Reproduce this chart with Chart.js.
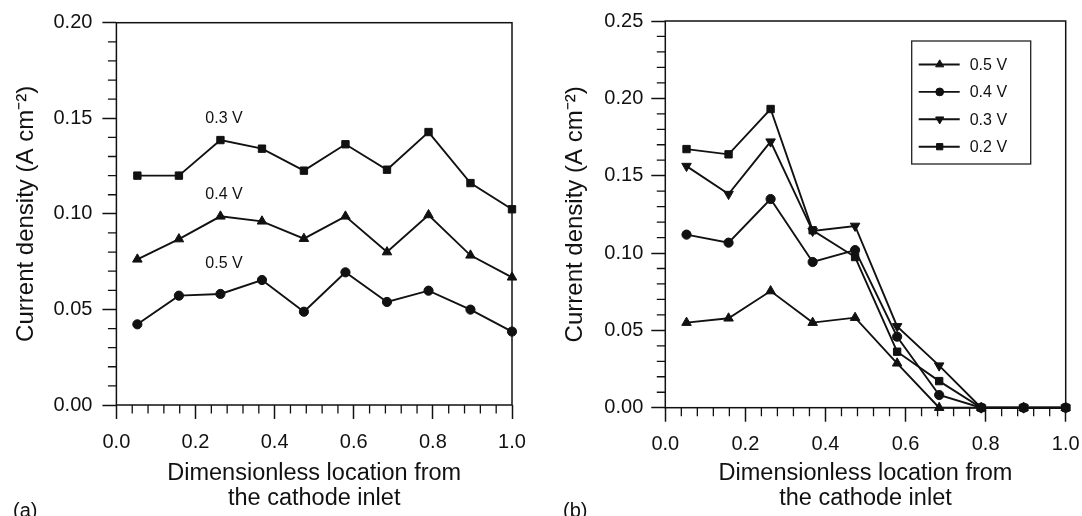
<!DOCTYPE html>
<html>
<head>
<meta charset="utf-8">
<script src="https://cdn.jsdelivr.net/npm/chart.js@4"></script>
<style>
  html, body { margin: 0; padding: 0; background: #fff; }
  #wrap { position: relative; width: 1082px; height: 516px; overflow: hidden; }
  .panel { position: absolute; top: 0; height: 516px; }
  .tag { position: absolute; font-family: "Liberation Sans", Arial, Helvetica, sans-serif;
         font-size: 20px; color: #111; line-height: 23px; }
</style>
</head>
<body>
<div id="wrap">
  <div class="panel" style="left:0;width:541px"><canvas id="chartA" width="541" height="516"></canvas></div>
  <div class="panel" style="left:541px;width:560px"><canvas id="chartB" width="560" height="516"></canvas></div>
  <div class="tag" style="left:13px;top:499px">(a)</div>
  <div class="tag" style="left:563px;top:499px">(b)</div>
</div>
<script>
// Dimensionless positions along the channel (shared by both panels)
const positions = [0.053, 0.158, 0.263, 0.368, 0.474, 0.579, 0.684, 0.789, 0.895, 1.0];

// Panel (a): current density (A cm^-2)
const a03V = [0.1200, 0.1200, 0.1386, 0.1341, 0.1226, 0.1364, 0.1231, 0.1428, 0.1161, 0.1024];
const a04V = [0.0762, 0.0868, 0.0987, 0.0961, 0.0870, 0.0987, 0.0800, 0.0994, 0.0783, 0.0668];
const a05V = [0.0422, 0.0572, 0.0581, 0.0654, 0.0488, 0.0694, 0.0539, 0.0598, 0.0499, 0.0384];
// In-plot curve labels for panel (a): text and anchor in data units
const curveLabelText = ['0.3 V', '0.4 V', '0.5 V'];
const curveLabelX = [0.272, 0.272, 0.272];
const curveLabelY = [0.1496, 0.1099, 0.0738];

// Panel (b): current density (A cm^-2)
const b05V = [0.0550, 0.0578, 0.0754, 0.0550, 0.0582, 0.0287, 0.0000, 0, 0, 0];
const b04V = [0.1119, 0.1067, 0.1349, 0.0942, 0.1019, 0.0459, 0.0082, 0, 0, 0];
const b03V = [0.1562, 0.1381, 0.1720, 0.1142, 0.1175, 0.0526, 0.0272, 0, 0, 0];
const b02V = [0.1672, 0.1638, 0.1931, 0.1147, 0.0974, 0.0362, 0.0172, 0, 0, 0];
const seriesLabelsB = ['0.5 V', '0.4 V', '0.3 V', '0.2 V'];

const FONT = '"Liberation Sans", Arial, Helvetica, sans-serif';
const INK = '#111';
const xTitle = ['Dimensionless location from', 'the cathode inlet'];
const yTitle = 'Current density (A cm\u207B\u00B2)';

const pts = vals => vals.map((v, i) => ({ x: positions[i], y: v }));

const marker = {
  triangle: { pointStyle: 'triangle', pointRadius: 5.5, pointRotation: 0 },
  invTriangle: { pointStyle: 'triangle', pointRadius: 5.5, pointRotation: 180 },
  circle: { pointStyle: 'circle', pointRadius: 4.6, pointRotation: 0 },
  square: { pointStyle: 'rect', pointRadius: 5.2, pointRotation: 0 }
};

function series(label, vals, m) {
  return Object.assign({
    label, data: pts(vals),
    borderColor: INK, borderWidth: 1.9,
    pointBackgroundColor: INK, pointBorderColor: INK, pointBorderWidth: 1,
    pointHoverRadius: 0, tension: 0, fill: false, clip: false
  }, m);
}

// Box around the plot area plus short minor ticks on both axes
const framePlugin = {
  id: 'frame',
  afterDraw(chart, args, opts) {
    const { ctx, chartArea: a } = chart;
    const x = chart.scales.x, y = chart.scales.y;
    ctx.save();
    ctx.strokeStyle = INK;
    ctx.lineWidth = 1.5;
    ctx.strokeRect(a.left, a.top, a.right - a.left, a.bottom - a.top);
    ctx.lineWidth = 1.3;
    ctx.beginPath();
    const nx = Math.round((x.max - x.min) / opts.xMinor);
    const kx = Math.round(opts.xMajor / opts.xMinor);
    for (let k = 1; k < nx; k++) {
      if (k % kx === 0) continue;
      const px = x.getPixelForValue(x.min + k * opts.xMinor);
      ctx.moveTo(px, a.bottom);
      ctx.lineTo(px, a.bottom + opts.minorLen);
    }
    const ny = Math.round((y.max - y.min) / opts.yMinor);
    const ky = Math.round(opts.yMajor / opts.yMinor);
    for (let k = 1; k < ny; k++) {
      if (k % ky === 0) continue;
      const py = y.getPixelForValue(y.min + k * opts.yMinor);
      ctx.moveTo(a.left, py);
      ctx.lineTo(a.left - opts.minorLen, py);
    }
    ctx.stroke();
    ctx.restore();
  }
};

// Text labels placed next to the curves (panel a)
const curveLabelPlugin = {
  id: 'curveLabels',
  afterDraw(chart, args, opts) {
    if (!opts.text) return;
    const { ctx } = chart;
    const x = chart.scales.x, y = chart.scales.y;
    ctx.save();
    ctx.fillStyle = INK;
    ctx.font = '16px ' + FONT;
    ctx.textAlign = 'center';
    ctx.textBaseline = 'middle';
    opts.text.forEach((t, i) => {
      ctx.fillText(t, x.getPixelForValue(opts.xs[i]), y.getPixelForValue(opts.ys[i]));
    });
    ctx.restore();
  }
};

// Boxed legend inside the plot area (panel b)
const boxLegendPlugin = {
  id: 'boxLegend',
  afterDraw(chart, args, opts) {
    if (!opts.show) return;
    const { ctx, chartArea: a } = chart;
    const bx = a.right - opts.fromRight - opts.width;
    const by = a.top + opts.fromTop;
    ctx.save();
    ctx.fillStyle = '#fff';
    ctx.fillRect(bx, by, opts.width, opts.height);
    ctx.strokeStyle = '#222';
    ctx.lineWidth = 1.3;
    ctx.strokeRect(bx, by, opts.width, opts.height);
    ctx.font = '16px ' + FONT;
    ctx.textBaseline = 'middle';
    ctx.textAlign = 'left';
    chart.data.datasets.forEach((ds, i) => {
      const yy = by + opts.firstRow + i * opts.rowGap;
      ctx.strokeStyle = INK;
      ctx.lineWidth = 1.9;
      ctx.beginPath();
      ctx.moveTo(bx + 7, yy);
      ctx.lineTo(bx + 48, yy);
      ctx.stroke();
      ctx.fillStyle = INK;
      ctx.lineWidth = 1;
      Chart.helpers.drawPoint(ctx, {
        pointStyle: ds.pointStyle, rotation: ds.pointRotation,
        radius: ds.pointRadius * 0.85, borderWidth: 1
      }, bx + 28, yy);
      ctx.fillStyle = INK;
      ctx.fillText(ds.label, bx + 58, yy + 1);
    });
    ctx.restore();
  }
};

function buildChart(id, p) {
  return new Chart(document.getElementById(id), {
    type: 'line',
    data: { datasets: p.datasets },
    options: {
      responsive: false, animation: false,
      events: [],
      layout: { padding: { left: 0, right: p.padRight, top: p.padTop, bottom: 0 } },
      scales: {
        x: {
          type: 'linear', min: 0, max: 1,
          ticks: { stepSize: 0.2, color: INK, font: { family: FONT, size: 20 }, padding: 11,
                   maxRotation: 0, autoSkip: false, callback: v => v.toFixed(1) },
          grid: { drawOnChartArea: false, drawTicks: true, tickLength: 14, tickColor: INK, tickWidth: 1.5 },
          border: { display: false },
          title: { display: true, text: xTitle, color: INK,
                   font: { family: FONT, size: 23.5, lineHeight: 1.06 }, padding: { top: 0, bottom: 5 } },
          afterFit(s) { s.height = p.xAxisH; }
        },
        y: {
          type: 'linear', min: 0, max: p.yMax,
          ticks: { stepSize: 0.05, color: INK, font: { family: FONT, size: 20 }, padding: p.yTickPad,
                   autoSkip: false, callback: v => v.toFixed(2) },
          grid: { drawOnChartArea: false, drawTicks: true, tickLength: 14, tickColor: INK, tickWidth: 1.5 },
          border: { display: false },
          title: { display: true, text: yTitle, color: INK,
                   font: { family: FONT, size: 24, lineHeight: 1.1 }, padding: { top: p.yTitlePad, bottom: 0 } },
          afterFit(s) { s.width = p.yAxisW; }
        }
      },
      plugins: {
        legend: { display: false },
        tooltip: { enabled: false },
        frame: { xMinor: 0.04, xMajor: 0.2, yMinor: 0.01, yMajor: 0.05, minorLen: 8.5 },
        curveLabels: p.curveLabels || {},
        boxLegend: p.boxLegend || { show: false }
      }
    },
    plugins: [framePlugin, curveLabelPlugin, boxLegendPlugin]
  });
}

buildChart('chartA', {
  datasets: [
    series('0.3 V', a03V, marker.square),
    series('0.4 V', a04V, marker.triangle),
    series('0.5 V', a05V, marker.circle)
  ],
  yMax: 0.20, padRight: 29, padTop: 22.7, xAxisH: 111, yAxisW: 116.4,
  yTickPad: 10, yTitlePad: 12.8,
  curveLabels: { text: curveLabelText, xs: curveLabelX, ys: curveLabelY }
});

buildChart('chartB', {
  datasets: [
    series(seriesLabelsB[0], b05V, marker.triangle),
    series(seriesLabelsB[1], b04V, marker.circle),
    series(seriesLabelsB[2], b03V, marker.invTriangle),
    series(seriesLabelsB[3], b02V, marker.square)
  ],
  yMax: 0.25, padRight: 35.3, padTop: 21, xAxisH: 108.3, yAxisW: 124.3,
  yTickPad: 8, yTitlePad: 21.3,
  boxLegend: { show: true, fromRight: 35, fromTop: 20, width: 119, height: 123, firstRow: 23.5, rowGap: 27.4 }
});
</script>
</body>
</html>
